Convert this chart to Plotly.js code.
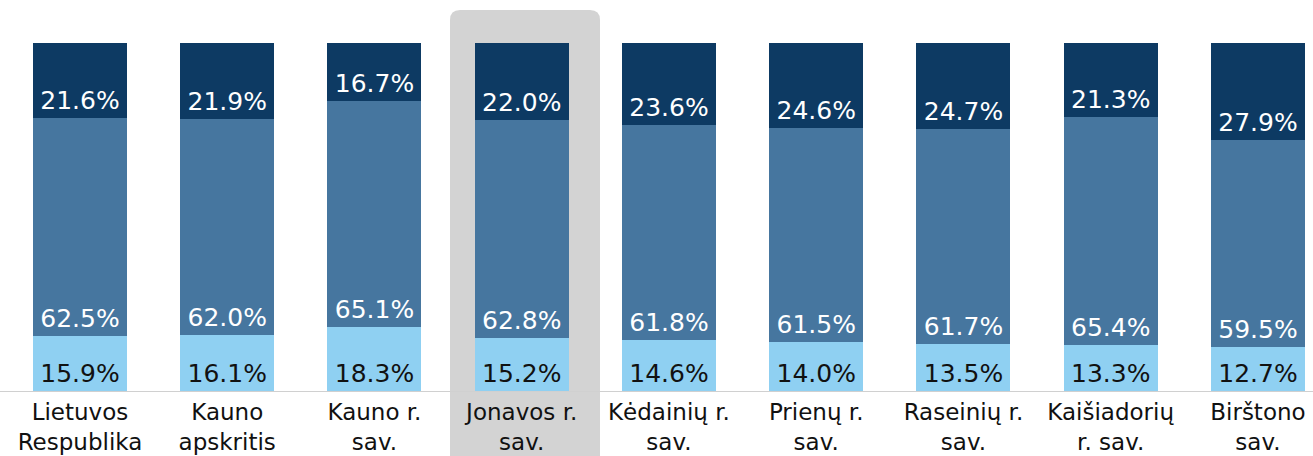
<!DOCTYPE html>
<html>
<head>
<meta charset="utf-8">
<script src="https://cdn.plot.ly/plotly-3.0.1.min.js"></script>
<style>html,body{margin:0;padding:0;background:#fff;}#chart{width:1313px;height:456px;}</style>
</head>
<body>
<div id="chart"></div>
<script>
const categories = ["Lietuvos<br>Respublika", "Kauno<br>apskritis", "Kauno r.<br>sav.", "Jonavos r.<br>sav.", "Kėdainių r.<br>sav.", "Prienų r.<br>sav.", "Raseinių r.<br>sav.", "Kaišiadorių<br>r. sav.", "Birštono<br>sav."];
const bottomShare = [15.9, 16.1, 18.3, 15.2, 14.6, 14.0, 13.5, 13.3, 12.7];
const middleShare = [62.5, 62.0, 65.1, 62.8, 61.8, 61.5, 61.7, 65.4, 59.5];
const topShare = [21.6, 21.9, 16.7, 22.0, 23.6, 24.6, 24.7, 21.3, 27.9];

const FONT = "DejaVu Sans, Verdana, sans-serif";
function series(vals, color, textColor) {
  return {
    type: 'bar', x: categories, y: vals,
    marker: {color: color, line: {width: 0}},
    texttemplate: '%{y:.1f}%', textposition: 'inside', insidetextanchor: 'start',
    textangle: 0, constraintext: 'none',
    textfont: {family: FONT, size: 25, color: textColor},
    hoverinfo: 'skip', showlegend: false
  };
}
const data = [
  series(bottomShare, '#8fd0f2', '#111111'),
  series(middleShare, '#46769f', '#ffffff'),
  series(topShare, '#0d3a63', '#ffffff')
];

const W = 1313, plotTop = 43, plotBottom = 391;
const ph = plotBottom - plotTop;
const hx0 = 450 / W, hx1 = 600 / W;
const hyT = (plotBottom - 10) / ph, hyB = (plotBottom - 470) / ph;
const rx = 10 / W, ry = 10 / ph;
const path = `M ${hx0},${hyB} L ${hx0},${hyT - ry} Q ${hx0},${hyT} ${hx0 + rx},${hyT} L ${hx1 - rx},${hyT} Q ${hx1},${hyT} ${hx1},${hyT - ry} L ${hx1},${hyB} Z`;

const layout = {
  width: 1313, height: 456,
  margin: {l: 0, r: 0, t: plotTop, b: 456 - plotBottom, pad: 0},
  barmode: 'stack', bargap: 0.362,
  paper_bgcolor: '#ffffff', plot_bgcolor: 'rgba(0,0,0,0)',
  xaxis: {
    range: [-0.543, 8.374], showline: true, linecolor: '#d0d0d0', linewidth: 1,
    showgrid: false, zeroline: false, ticks: '', fixedrange: true,
    tickfont: {family: FONT, size: 23, color: '#111111'}, automargin: false
  },
  yaxis: {range: [0, 100], visible: false, fixedrange: true},
  shapes: [{type: 'path', xref: 'paper', yref: 'paper', path: path, fillcolor: '#d3d3d3', line: {width: 0}, layer: 'below'}],
  font: {family: FONT}
};
Plotly.newPlot('chart', data, layout, {displayModeBar: false, staticPlot: true});
</script>
</body>
</html>
